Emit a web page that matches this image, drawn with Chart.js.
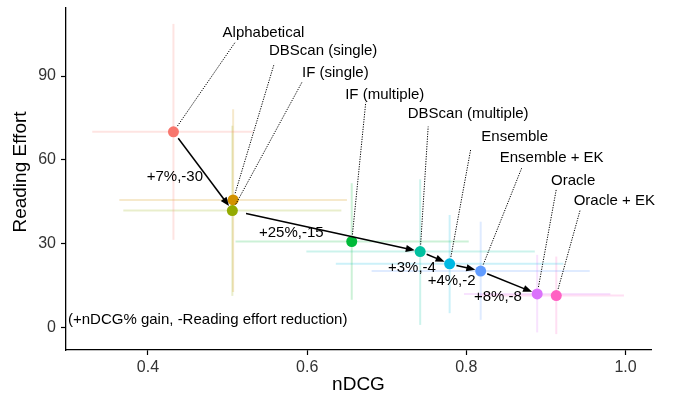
<!DOCTYPE html>
<html>
<head>
<meta charset="utf-8">
<script src="https://cdn.jsdelivr.net/npm/chart.js@4.4.1/dist/chart.umd.min.js"></script>
<style>
  html, body { margin: 0; padding: 0; background: #fff; }
  #wrap { width: 673px; height: 401px; }
</style>
</head>
<body>
<div id="wrap"><canvas id="chart" width="673" height="401"></canvas></div>
<script>
// ---- data ----
const methods = ['Alphabetical', 'DBScan (single)', 'IF (single)', 'IF (multiple)', 'DBScan (multiple)',
                 'Ensemble', 'Ensemble + EK', 'Oracle', 'Oracle + EK'];
const ndcg = [0.432, 0.507, 0.506, 0.656, 0.742, 0.779, 0.818, 0.889, 0.913];
const effort = [70.0, 45.6, 41.8, 30.7, 27.1, 22.7, 20.1, 11.9, 11.3];
const ndcgLow = [0.330, 0.364, 0.369, 0.510, 0.599, 0.636, 0.681, 0.797, 0.815];
const ndcgHigh = [0.532, 0.650, 0.643, 0.803, 0.886, 0.922, 0.955, 0.981, 0.998];
const effortLow = [31.3, 12.6, 11.2, 9.8, 0.8, 5.0, 2.6, -1.9, -2.5];
const effortHigh = [108.7, 78.1, 72.2, 51.6, 53.0, 40.2, 37.8, 25.9, 25.3];

// arrows between methods (indices) and their gain labels
const arrowFrom = [0, 2, 4, 5, 6];
const arrowTo = [2, 4, 5, 6, 7];
const arrowLabels = ['+7%,-30', '+25%,-15', '+3%,-4', '+4%,-2', '+8%,-8'];

const xTicks = [0.4, 0.6, 0.8, 1.0];
const yTicks = [0, 30, 60, 90];
const note = '(+nDCG% gain, -Reading effort reduction)';

// ---- styling ----
const colors = ['#F8766D', '#D39200', '#93AA00', '#00BA38', '#00C19F', '#00B9E3', '#619CFF', '#DB72FB', '#FF61C3'];
const FONT = '"Liberation Sans", Arial, sans-serif';

// label placement (pixel offsets from the point, repel-style)
const labelOffset = [[90, -99], [90, -149], [103, -138], [33, -147], [48, -138], [65, -127], [71, -113], [36, -113], [58, -95]];
const leaderEnd = [[62, -90], [41, -136], [70, -129], [14, -139], [8, -125], [21, -114], [41, -103], [19, -104], [24, -86]];
const arrowLabelOffset = [[-28, 6], [-35, 2], [-23, 10], [-13.5, 13], [-11, 14]];
const arrowStartGap = [8, 14, 7, 7, 7];
const arrowEndGap = 5.5;

function fade(hex, a) {
    const n = parseInt(hex.slice(1), 16);
    return `rgba(${(n >> 16) & 255},${(n >> 8) & 255},${n & 255},${a})`;
}

// error bars as thin faded line datasets
const errorSets = [];
methods.forEach((m, i) => {
    errorSets.push({
        type: 'scatter', showLine: true, order: 2,
        data: [{x: ndcgLow[i], y: effort[i]}, {x: ndcgHigh[i], y: effort[i]}],
        borderColor: fade(colors[i], 0.2), borderWidth: 2, pointRadius: 0
    });
    errorSets.push({
        type: 'scatter', showLine: true, order: 2,
        data: [{x: ndcg[i], y: effortLow[i]}, {x: ndcg[i], y: effortHigh[i]}],
        borderColor: fade(colors[i], 0.2), borderWidth: 2, pointRadius: 0
    });
});

const overlay = {
    id: 'overlay',
    afterDatasetsDraw(chart) {
        const ctx = chart.ctx;
        const xs = chart.scales.x, ys = chart.scales.y;
        const px = ndcg.map(v => xs.getPixelForValue(v));
        const py = effort.map(v => ys.getPixelForValue(v));
        ctx.save();

        // leader lines + method labels
        ctx.strokeStyle = '#000';
        ctx.lineWidth = 1;
        ctx.setLineDash([1.2, 1.3]);
        methods.forEach((m, i) => {
            const ex = px[i] + leaderEnd[i][0], ey = py[i] + leaderEnd[i][1];
            const dx = ex - px[i], dy = ey - py[i];
            const len = Math.hypot(dx, dy);
            ctx.beginPath();
            ctx.moveTo(px[i] + dx / len * 7, py[i] + dy / len * 7);
            ctx.lineTo(ex, ey);
            ctx.stroke();
        });
        ctx.setLineDash([]);
        ctx.fillStyle = '#000';
        ctx.font = `15px ${FONT}`;
        ctx.textAlign = 'center';
        ctx.textBaseline = 'middle';
        methods.forEach((m, i) => {
            ctx.fillText(m, px[i] + labelOffset[i][0], py[i] + labelOffset[i][1]);
        });

        // arrows
        ctx.lineWidth = 1.5;
        arrowFrom.forEach((a, k) => {
            const b = arrowTo[k];
            const dx = px[b] - px[a], dy = py[b] - py[a];
            const len = Math.hypot(dx, dy);
            const ux = dx / len, uy = dy / len;
            const sx = px[a] + ux * arrowStartGap[k], sy = py[a] + uy * arrowStartGap[k];
            const tx = px[b] - ux * arrowEndGap, ty = py[b] - uy * arrowEndGap;
            const hl = 9, hw = 3.6;
            ctx.beginPath();
            ctx.moveTo(sx, sy);
            ctx.lineTo(tx - ux * hl * 0.6, ty - uy * hl * 0.6);
            ctx.stroke();
            ctx.beginPath();
            ctx.moveTo(tx, ty);
            ctx.lineTo(tx - ux * hl - uy * hw, ty - uy * hl + ux * hw);
            ctx.lineTo(tx - ux * hl + uy * hw, ty - uy * hl - ux * hw);
            ctx.closePath();
            ctx.fill();
            const mx = (px[a] + px[b]) / 2, my = (py[a] + py[b]) / 2;
            ctx.fillText(arrowLabels[k], mx + arrowLabelOffset[k][0], my + arrowLabelOffset[k][1]);
        });

        // note in the lower-left corner
        ctx.textAlign = 'left';
        ctx.fillText(note, chart.chartArea.left + 2, chart.chartArea.bottom - 30);

        // y axis title
        ctx.translate(21, 172);
        ctx.rotate(-Math.PI / 2);
        ctx.textAlign = 'center';
        ctx.font = `19px ${FONT}`;
        ctx.fillText('Reading Effort', 0, 0);
        ctx.restore();
    }
};

new Chart(document.getElementById('chart').getContext('2d'), {
    type: 'scatter',
    data: {
        datasets: [
            {
                order: 1,
                data: ndcg.map((v, i) => ({x: v, y: effort[i]})),
                pointBackgroundColor: colors,
                pointBorderWidth: 0,
                pointRadius: 5.5,
                pointHoverRadius: 5.5
            },
            ...errorSets
        ]
    },
    options: {
        responsive: false,
        devicePixelRatio: 1,
        animation: false,
        layout: {padding: {top: 8, right: 22, left: 0, bottom: 0}},
        plugins: {legend: {display: false}, tooltip: {enabled: false}},
        scales: {
            x: {
                type: 'linear', min: 0.297, max: 1.032,
                afterBuildTicks: s => { s.ticks = xTicks.map(v => ({value: v})); },
                afterFit: s => { s.height = 51; s.paddingLeft = 0; s.paddingRight = 0; },
                grid: {drawOnChartArea: false, drawTicks: true, tickLength: 5, tickColor: '#000', tickWidth: 1.2},
                border: {display: true, color: '#000', width: 1.3},
                ticks: {color: '#333', font: {family: FONT, size: 16}, padding: 3,
                        callback: v => v.toFixed(1)},
                title: {display: true, text: 'nDCG', color: '#000', font: {family: FONT, size: 19},
                        padding: {top: 0, bottom: 5}}
            },
            y: {
                type: 'linear', min: -8.2, max: 114.4,
                afterBuildTicks: s => { s.ticks = yTicks.map(v => ({value: v})); },
                afterFit: s => { s.width = 66; s.paddingTop = 0; s.paddingBottom = 0; },
                grid: {drawOnChartArea: false, drawTicks: true, tickLength: 5, tickColor: '#000', tickWidth: 1.2},
                border: {display: true, color: '#000', width: 1.3},
                ticks: {color: '#333', font: {family: FONT, size: 16}, padding: 5}
            }
        }
    },
    plugins: [overlay]
});
</script>
</body>
</html>
